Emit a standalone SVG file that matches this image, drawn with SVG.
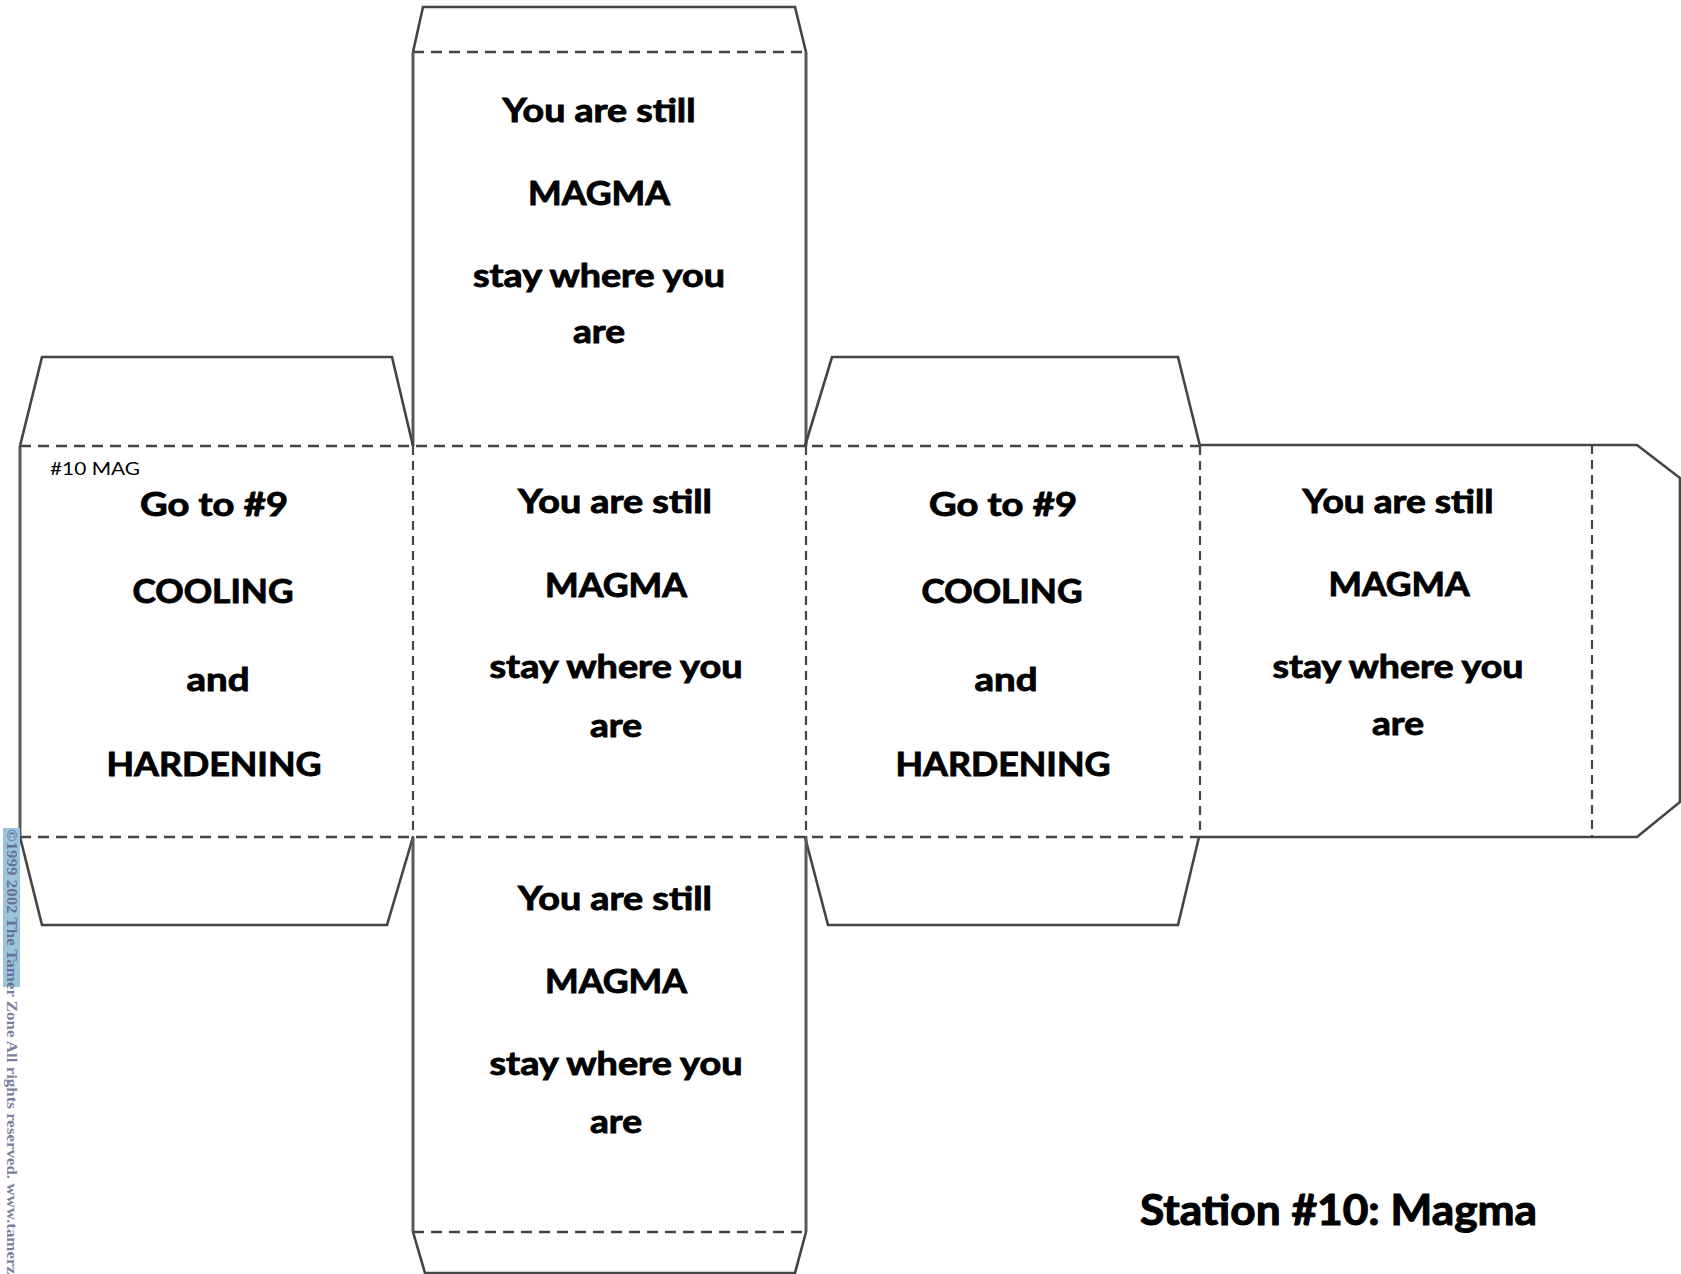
<svg xmlns="http://www.w3.org/2000/svg" width="1681" height="1274" viewBox="0 0 1681 1274">
<style>
.solid{fill:none;stroke:#444;stroke-width:2.6;stroke-linejoin:miter}
.side{fill:none;stroke:#5a5a5a;stroke-width:3}
.dash{fill:none;stroke:#444;stroke-width:2.6;stroke-dasharray:11 7}
.vdash{fill:none;stroke:#444;stroke-width:2.2;stroke-dasharray:9 6}
.t{font-family:Lato,"Open Sans","Liberation Sans",sans-serif;font-weight:700;font-size:32px;fill:#000;stroke:#000;stroke-width:0.9;text-anchor:middle}
.st{font-family:Lato,"Open Sans","Liberation Sans",sans-serif;font-weight:700;font-size:42px;fill:#000;stroke:#000;stroke-width:1.1}
.small{font-family:Lato,"Open Sans","Liberation Sans",sans-serif;font-size:18px;fill:#000}
.copy{font-family:"Liberation Serif",serif;font-weight:700;font-size:15px;fill:#5a5f8a;opacity:0.8}
</style>
<rect width="1681" height="1274" fill="#fff"/>

<g id="top-face">
  <polyline class="solid" points="413,52 423,7 795,7 806,52"/>
  <line class="dash" x1="413" y1="52" x2="806" y2="52"/>
  <line class="side" x1="413" y1="52" x2="413" y2="446"/>
  <line class="side" x1="806" y1="52" x2="806" y2="446"/>
  <text class="t" x="599" y="122" textLength="193" lengthAdjust="spacingAndGlyphs">You are still</text>
  <text class="t" x="599" y="205" textLength="142" lengthAdjust="spacingAndGlyphs">MAGMA</text>
  <text class="t" x="599" y="287" textLength="252" lengthAdjust="spacingAndGlyphs">stay where you</text>
  <text class="t" x="599" y="343" textLength="52" lengthAdjust="spacingAndGlyphs">are</text>
</g>

<g id="left-face">
  <polyline class="solid" points="20,446 42,357 392,357 413,446"/>
  <polyline class="solid" points="20,837 42,925 387,925 413,837"/>
  <line class="side" x1="20" y1="446" x2="20" y2="837"/>
  <text class="small" x="50" y="475" textLength="90" lengthAdjust="spacingAndGlyphs">#10 MAG</text>
  <text class="t" x="214" y="516" textLength="148" lengthAdjust="spacingAndGlyphs">Go to #9</text>
  <text class="t" x="213" y="603" textLength="161" lengthAdjust="spacingAndGlyphs">COOLING</text>
  <text class="t" x="218" y="691" textLength="63" lengthAdjust="spacingAndGlyphs">and</text>
  <text class="t" x="214" y="776" textLength="215" lengthAdjust="spacingAndGlyphs">HARDENING</text>
</g>

<g id="middle-face">
  <text class="t" x="615" y="513" textLength="194" lengthAdjust="spacingAndGlyphs">You are still</text>
  <text class="t" x="616" y="597" textLength="142" lengthAdjust="spacingAndGlyphs">MAGMA</text>
  <text class="t" x="616" y="678" textLength="253" lengthAdjust="spacingAndGlyphs">stay where you</text>
  <text class="t" x="616" y="737" textLength="52" lengthAdjust="spacingAndGlyphs">are</text>
</g>

<g id="third-face">
  <polyline class="solid" points="805,446 832,357 1178,357 1200,446"/>
  <polyline class="solid" points="805,837 828,925 1178,925 1199,837"/>
  <text class="t" x="1003" y="516" textLength="148" lengthAdjust="spacingAndGlyphs">Go to #9</text>
  <text class="t" x="1002" y="603" textLength="161" lengthAdjust="spacingAndGlyphs">COOLING</text>
  <text class="t" x="1006" y="691" textLength="63" lengthAdjust="spacingAndGlyphs">and</text>
  <text class="t" x="1003" y="776" textLength="215" lengthAdjust="spacingAndGlyphs">HARDENING</text>
</g>

<g id="right-face">
  <polyline class="solid" points="1200,445 1637,445 1680,478 1680,802 1637,837 1200,837"/>
  <line class="vdash" x1="1592" y1="445" x2="1592" y2="837"/>
  <text class="t" x="1398" y="513" textLength="191" lengthAdjust="spacingAndGlyphs">You are still</text>
  <text class="t" x="1399" y="596" textLength="141" lengthAdjust="spacingAndGlyphs">MAGMA</text>
  <text class="t" x="1398" y="678" textLength="251" lengthAdjust="spacingAndGlyphs">stay where you</text>
  <text class="t" x="1398" y="735" textLength="52" lengthAdjust="spacingAndGlyphs">are</text>
</g>

<g id="bottom-face">
  <line class="side" x1="413" y1="837" x2="413" y2="1232"/>
  <line class="side" x1="806" y1="837" x2="806" y2="1232"/>
  <line class="dash" x1="413" y1="1232" x2="806" y2="1232"/>
  <polyline class="solid" points="413,1232 425,1273 795,1273 806,1232"/>
  <text class="t" x="615" y="910" textLength="194" lengthAdjust="spacingAndGlyphs">You are still</text>
  <text class="t" x="616" y="993" textLength="142" lengthAdjust="spacingAndGlyphs">MAGMA</text>
  <text class="t" x="616" y="1075" textLength="253" lengthAdjust="spacingAndGlyphs">stay where you</text>
  <text class="t" x="616" y="1133" textLength="52" lengthAdjust="spacingAndGlyphs">are</text>
</g>

<g id="connectors">
  <line class="dash" x1="20" y1="446" x2="1200" y2="446"/>
  <line class="dash" x1="20" y1="837" x2="1200" y2="837"/>
  <line class="vdash" x1="413" y1="446" x2="413" y2="837"/>
  <line class="vdash" x1="806" y1="446" x2="806" y2="837"/>
  <line class="vdash" x1="1200" y1="446" x2="1200" y2="837"/>
</g>

<g id="title">
  <text class="st" x="1140" y="1225" textLength="397" lengthAdjust="spacingAndGlyphs">Station #10: Magma</text>
</g>

<g id="copyright">
  <rect x="3" y="828" width="17" height="159" fill="#9cc3dc"/>
  <text class="copy" transform="translate(7,829) rotate(90)" textLength="445" lengthAdjust="spacingAndGlyphs">©1999 2002 The Tamer Zone All rights reserved. www.tamerz</text>
</g>
</svg>
